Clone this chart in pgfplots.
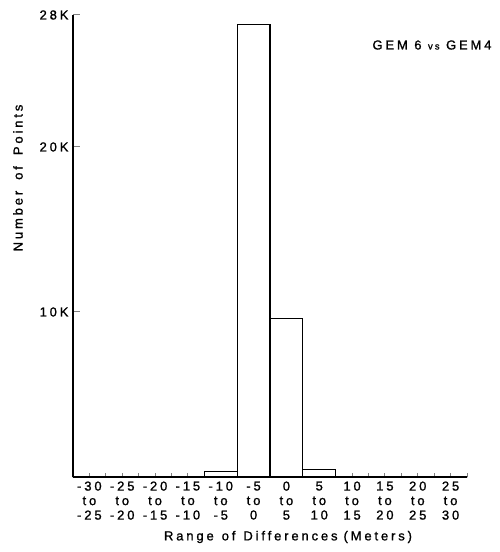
\documentclass[border=0pt]{standalone}
\usepackage{fontspec}
\setmainfont{Liberation Sans}[LetterSpace=22, FakeBold=1.2]
\usepackage{pgfplots}
\pgfplotsset{compat=1.18}

\begin{document}
\begin{tikzpicture}
% fixed page frame around the axis box (axis box lower-left corner at the origin)
\path[use as bounding box] (-73pt,-75pt) rectangle (426pt,477pt);
\begin{axis}[
  at={(0pt,0pt)}, anchor=south west,
  scale only axis, width=394pt, height=462pt,
  xmin=-30, xmax=30, ymin=0, ymax=28000,
  axis x line=bottom, axis y line=left,
  axis line style={-, line width=1.1pt},
  tick align=inside,
  scaled y ticks=false,
  xtick={-25,-20,...,30}, xticklabels={},
  xtick style={line width=0.9pt, /pgfplots/major tick length=4pt},
  ytick={10000,20000,28000}, yticklabels={10K,20K,28K},
  ytick style={line width=1pt, /pgfplots/major tick length=7pt},
  yticklabel style={font=\fontsize{13}{14}\selectfont, xshift=-1pt},
  extra x ticks={-27.5,-22.5,...,27.5},
  extra x tick labels={
    -30\\to\\-25, -25\\to\\-20, -20\\to\\-15, -15\\to\\-10,
    -10\\to\\-5, -5\\to\\0, 0\\to\\5, 5\\to\\10,
    10\\to\\15, 15\\to\\20, 20\\to\\25, 25\\to\\30},
  extra x tick style={/pgfplots/major tick length=0pt,
    xticklabel style={align=center, font=\fontsize{13}{14.5}\selectfont, yshift=-1pt}},
  clip=false,
]
% counts per 5 m bin of differences
\addplot[ybar interval, draw=black, fill=white, line width=1.1pt] coordinates {
  (-30,0) (-25,0) (-20,0) (-15,0) (-10,320) (-5,27400)
  (0,9600) (5,430) (10,0) (15,0) (20,0) (25,0) (30,0)
};
\end{axis}
\node[font=\fontsize{13}{14}\selectfont] at (359pt,432pt)
  {GEM 6 {\fontsize{9.5}{10}\selectfont vs} GEM4};
\node[rotate=90, font=\fontsize{13}{14}\selectfont] at (-55pt,299pt)
  {Number\hspace{11pt}of\hspace{11pt}Points};
\node[font=\fontsize{13}{14}\selectfont] at (215pt,-60pt)
  {Range\hspace{8pt}of\hspace{8pt}Differences\hspace{6pt}(Meters)};
\end{tikzpicture}
\end{document}
